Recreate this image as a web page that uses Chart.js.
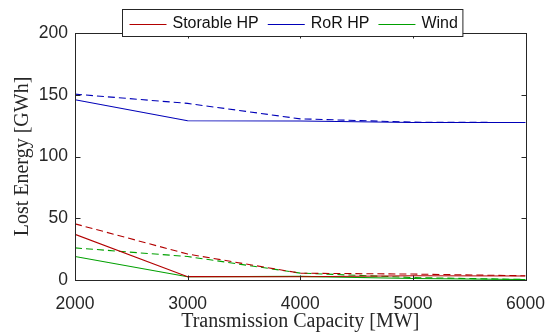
<!DOCTYPE html>
<html>
<head>
<meta charset="utf-8">
<script src="https://cdn.jsdelivr.net/npm/chart.js@4.4.1/dist/chart.umd.min.js"></script>
<style>
  html, body { margin: 0; padding: 0; background: #fff; }
  #wrap { width: 559px; height: 334px; position: relative; }
</style>
</head>
<body>
<div id="wrap"><canvas id="c" width="559" height="334"></canvas></div>
<script>
// Transmission capacity steps (MW)
const capacity = [2000, 3000, 4000, 5000, 6000];

// Lost energy (GWh) per technology; solid and dashed cases
const storableSolid = [37, 2.7, 2.6, 3.4, 3.2];
const storableDashed = [45.5, 21, 5.5, 4.8, 3.4];
const rorSolid = [146, 129, 128.8, 127.5, 127.5];
const rorDashed = [150.5, 143, 130.5, 127.8, 127.5];
const windSolid = [19, 2.6, 2.9, 1.2, 0.4];
const windDashed = [26, 19, 5.6, 2.0, 0.4];

const yTicks = [0, 50, 100, 150, 200];
const xTicks = [2000, 3000, 4000, 5000, 6000];

const RED = '#b20000', BLUE = '#0000b8', GREEN = '#00a000';
const AXIS = '#262626';

const pts = (vals) => capacity.map((c, i) => ({ x: c, y: vals[i] }));
const mk = (label, vals, color, dashed) => ({
  label, data: pts(vals), borderColor: color, backgroundColor: color,
  borderWidth: 1.1, borderDash: dashed ? [7, 4] : [], pointRadius: 0,
  tension: 0, fill: false, showInLegend: !dashed
});

// Box around the plot area with inward ticks on all four sides
const boxPlugin = {
  id: 'box',
  afterDatasetsDraw(chart) {
    const { ctx, chartArea: a, scales: { x, y } } = chart;
    ctx.save();
    ctx.strokeStyle = AXIS;
    ctx.lineWidth = 1;
    const L = Math.round(a.left) + 0.5, R = Math.round(a.right) + 0.5;
    const T = Math.round(a.top) + 0.5, B = Math.round(a.bottom) + 0.5;
    ctx.strokeRect(L, T, R - L, B - T);
    const tl = 5;
    ctx.beginPath();
    xTicks.forEach(v => {
      const px = Math.round(x.getPixelForValue(v)) + 0.5;
      ctx.moveTo(px, B); ctx.lineTo(px, B - tl);
      ctx.moveTo(px, T); ctx.lineTo(px, T + tl);
    });
    yTicks.forEach(v => {
      const py = Math.round(y.getPixelForValue(v)) + 0.5;
      ctx.moveTo(L, py); ctx.lineTo(L + tl, py);
      ctx.moveTo(R, py); ctx.lineTo(R - tl, py);
    });
    ctx.stroke();
    ctx.restore();
  }
};

// Horizontal legend box straddling the top edge of the plot
const legendPlugin = {
  id: 'boxLegend',
  afterDraw(chart) {
    const { ctx } = chart;
    const items = chart.data.datasets.filter(d => d.showInLegend);
    ctx.save();
    ctx.font = '16px "Liberation Sans", Arial, sans-serif';
    ctx.textBaseline = 'middle';
    const lineLen = 37, gapLine = 6, gapItem = 9, padL = 7, padR = 5;
    let w = padL;
    items.forEach((d, i) => {
      w += lineLen + gapLine + ctx.measureText(d.label).width;
      if (i < items.length - 1) w += gapItem;
    });
    w += padR;
    const x0 = 122.5, y0 = 9.5, h = 27;
    ctx.fillStyle = '#fff';
    ctx.fillRect(x0, y0, w, h);
    ctx.strokeStyle = AXIS;
    ctx.lineWidth = 1;
    ctx.strokeRect(x0, y0, w, h);
    let cx = x0 + padL;
    const cy = y0 + h / 2 + 0.5;
    items.forEach(d => {
      ctx.strokeStyle = d.borderColor;
      ctx.lineWidth = 1;
      ctx.beginPath();
      ctx.moveTo(cx, Math.round(cy) + 0.5);
      ctx.lineTo(cx + lineLen, Math.round(cy) + 0.5);
      ctx.stroke();
      cx += lineLen + gapLine;
      ctx.fillStyle = '#111';
      ctx.fillText(d.label, cx, cy);
      cx += ctx.measureText(d.label).width + gapItem;
    });
    ctx.restore();
  }
};

new Chart(document.getElementById('c'), {
  type: 'line',
  data: {
    datasets: [
      mk('Storable HP', storableSolid, RED, false),
      mk('Storable HP (dashed)', storableDashed, RED, true),
      mk('RoR HP', rorSolid, BLUE, false),
      mk('RoR HP (dashed)', rorDashed, BLUE, true),
      mk('Wind', windSolid, GREEN, false),
      mk('Wind (dashed)', windDashed, GREEN, true)
    ]
  },
  options: {
    responsive: false,
    animation: false,
    layout: { padding: { top: 33, right: 31, left: 0, bottom: 0 } },
    plugins: { legend: { display: false }, tooltip: { enabled: false } },
    scales: {
      x: {
        type: 'linear', min: 2000, max: 6000,
        afterBuildTicks: (s) => { s.ticks = xTicks.map(v => ({ value: v })); },
        afterFit: (s) => { s.height = 54; },
        grid: { display: false, drawTicks: false },
        border: { display: false },
        ticks: {
          color: AXIS, padding: 14,
          font: { family: '"Liberation Sans", Arial, sans-serif', size: 17.5 },
          callback: (v) => String(v), maxRotation: 0
        },
        title: {
          display: true, text: 'Transmission Capacity [MW]', color: AXIS,
          font: { family: '"Liberation Serif", "DejaVu Serif", serif', size: 20 },
          padding: { top: 0, bottom: 0 }
        }
      },
      y: {
        min: 0, max: 200,
        afterBuildTicks: (s) => { s.ticks = yTicks.map(v => ({ value: v })); },
        afterFit: (s) => { s.width = 75; },
        grid: { display: false, drawTicks: false },
        border: { display: false },
        ticks: {
          color: AXIS, padding: 7,
          font: { family: '"Liberation Sans", Arial, sans-serif', size: 17.5 },
          callback: (v) => String(v)
        },
        title: {
          display: true, text: 'Lost Energy [GWh]', color: AXIS,
          font: { family: '"Liberation Serif", "DejaVu Serif", serif', size: 20 },
          padding: { top: 11, bottom: 0 }
        }
      }
    }
  },
  plugins: [boxPlugin, legendPlugin]
});
</script>
</body>
</html>
